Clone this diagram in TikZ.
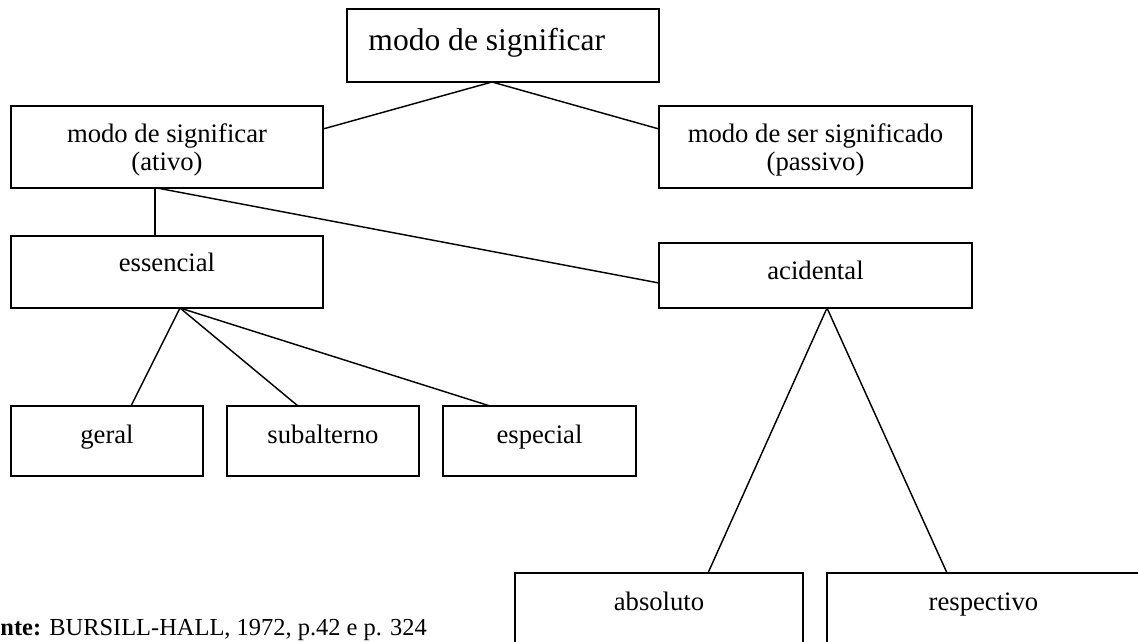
\documentclass[tikz,border=0pt]{standalone}
\usepackage{fontspec}
\setmainfont{Liberation Serif}
\begin{document}
\begin{tikzpicture}[
  x=0.45pt, y=-0.45pt,
  box/.style={draw, line width=0.75pt, inner sep=0pt, outer sep=0pt},
  link/.style={line width=0.65pt},
  txt/.style={anchor=base, inner sep=0pt, font=\fontsize{12}{13.8}\selectfont},
  big/.style={anchor=base west, inner sep=0pt, font=\fontsize{14.2}{16}\selectfont},
  note/.style={anchor=base west, inner sep=0pt, font=\fontsize{11}{13}\selectfont}
]
\useasboundingbox (0,0) rectangle (1138,641);

% boxes
\node[box, minimum width=312*0.45pt, minimum height=73*0.45pt] (top) at (503,45.5) {};
\node[box, minimum width=312*0.45pt, minimum height=82*0.45pt] (ativo) at (167,147) {};
\node[box, minimum width=313*0.45pt, minimum height=82*0.45pt] (passivo) at (815.5,147) {};
\node[box, minimum width=312*0.45pt, minimum height=72*0.45pt] (essencial) at (167,272) {};
\node[box, minimum width=313*0.45pt, minimum height=65*0.45pt] (acidental) at (815.5,275.5) {};
\node[box, minimum width=192*0.45pt, minimum height=70*0.45pt] (geral) at (107,441) {};
\node[box, minimum width=192*0.45pt, minimum height=70*0.45pt] (subalterno) at (323,441) {};
\node[box, minimum width=193*0.45pt, minimum height=70*0.45pt] (especial) at (539.5,441) {};
\node[box, minimum width=288*0.45pt, minimum height=80*0.45pt] (absoluto) at (659,613) {};
\node[box, minimum width=313*0.45pt, minimum height=80*0.45pt] (respectivo) at (983.5,613) {};

% labels
\node[big] (topT) at (368,50) {modo de significar};
\node[txt] (ativoA) at (167,142) {modo de significar};
\node[txt] (ativoB) at (167,170) {(ativo)};
\node[txt] (passivoA) at (815.5,142) {modo de ser significado};
\node[txt] (passivoB) at (815.5,170) {(passivo)};
\node[txt] (essencialT) at (167,271) {essencial};
\node[txt] (acidentalT) at (815.5,279) {acidental};
\node[txt] (geralT) at (107,443) {geral};
\node[txt] (subalternoT) at (323,443) {subalterno};
\node[txt] (especialT) at (539.5,443) {especial};
\node[txt] (absolutoT) at (659,610) {absoluto};
\node[txt] (respectivoT) at (983.5,610) {respectivo};
\node[note] (fonte) at (0,635) {\textbf{nte:} BURSILL-HALL, 1972, p.42 e p. 324};

% connectors
\draw[link] ([shift={(-11,0)}]top.south) -- ([shift={(0,-18)}]ativo.east);
\draw[link] ([shift={(-11,0)}]top.south) -- ([shift={(0,-18)}]passivo.west);
\draw[link] ([shift={(-12,0)}]ativo.south) -- ([shift={(-12,0)}]essencial.north);
\draw[link] ([shift={(-10,0)}]ativo.south) -- ([shift={(0,7.5)}]acidental.west);
\draw[link] ([shift={(13,0)}]essencial.south) -- ([shift={(24,0)}]geral.north);
\draw[link] ([shift={(13,0)}]essencial.south) -- ([shift={(-25,0)}]subalterno.north);
\draw[link] ([shift={(13,0)}]essencial.south) -- ([shift={(-49.5,0)}]especial.north);
\draw[link] ([shift={(11.5,0)}]acidental.south) -- ([shift={(49,0)}]absoluto.north);
\draw[link] ([shift={(11.5,0)}]acidental.south) -- ([shift={(-36.5,0)}]respectivo.north);
\end{tikzpicture}
\end{document}
